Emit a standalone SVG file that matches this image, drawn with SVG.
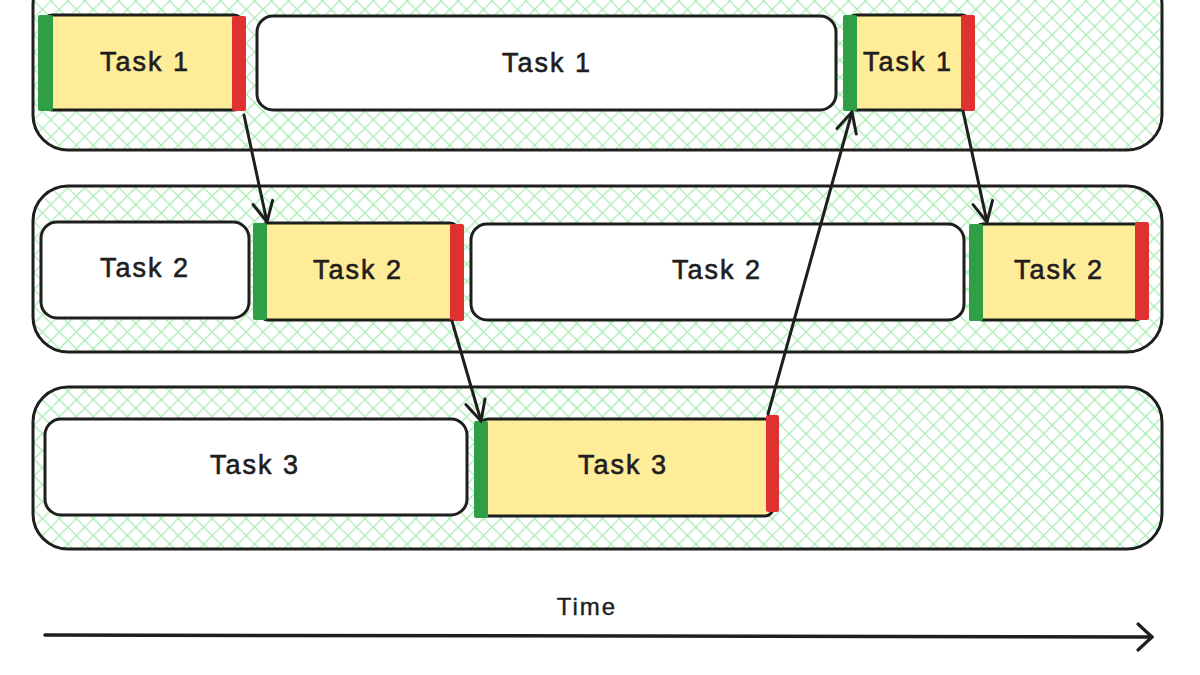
<svg xmlns="http://www.w3.org/2000/svg" width="1200" height="675" viewBox="0 0 1200 675">
<defs>
<pattern id="hatch" patternUnits="userSpaceOnUse" width="12" height="12" patternTransform="rotate(45)">
<line x1="0" y1="0" x2="12" y2="0" stroke="#a9ecb4" stroke-width="2.6"/>
<line x1="0" y1="0" x2="0" y2="12" stroke="#a9ecb4" stroke-width="2.6"/>
</pattern>
<marker id="arr" markerWidth="30" markerHeight="30" refX="25" refY="15" orient="auto" markerUnits="userSpaceOnUse">
<path d="M5,5 L25,15 L5,25" fill="none" stroke="#1e1e1e" stroke-width="3" stroke-linecap="round" stroke-linejoin="round"/>
</marker>
<marker id="arrT" markerWidth="40" markerHeight="40" refX="34" refY="20" orient="auto" markerUnits="userSpaceOnUse">
<path d="M20,7 L34,20 L20,33" fill="none" stroke="#1e1e1e" stroke-width="3.2" stroke-linecap="round" stroke-linejoin="round"/>
</marker>
</defs>
<style>
.lane{fill:url(#hatch);stroke:#1e1e1e;stroke-width:3}
.task{stroke:#1e1e1e;stroke-width:3}
.w{fill:#ffffff}
.y{fill:#ffec99}
.g{fill:#2f9e44}
.r{fill:#e03131}
.t{font-family:"Liberation Sans",Arial,sans-serif;font-size:27px;fill:#1e1e1e;text-anchor:middle;dominant-baseline:central;letter-spacing:2px;stroke:#1e1e1e;stroke-width:0.6}
.c{fill:none;stroke:#1e1e1e;stroke-width:3;stroke-linecap:round}
</style>
<g id="lane1"><rect class="lane" x="33" y="-30" width="1129" height="180" rx="35"/></g>
<g id="lane2"><rect class="lane" x="33" y="186" width="1129" height="166" rx="35"/></g>
<g id="lane3"><rect class="lane" x="33" y="387" width="1129" height="162" rx="35"/></g>

<g id="t1a"><rect class="task y" x="44" y="15" width="198" height="95" rx="8"/><rect class="g" x="38" y="15" width="15" height="96" rx="2"/><rect class="r" x="232" y="16" width="14" height="95" rx="2"/><text class="t" x="145" y="62">Task 1</text></g>
<g id="t1b"><rect class="task w" x="257" y="16" width="579" height="94" rx="16"/><text class="t" x="547" y="63">Task 1</text></g>
<g id="t1c"><rect class="task y" x="848" y="15" width="122" height="95" rx="8"/><rect class="g" x="843" y="15" width="14" height="96" rx="2"/><rect class="r" x="961" y="15" width="14" height="96" rx="2"/><text class="t" x="908" y="62">Task 1</text></g>

<g id="t2a"><rect class="task w" x="41" y="222" width="208" height="96" rx="16"/><text class="t" x="145" y="268">Task 2</text></g>
<g id="t2b"><rect class="task y" x="260" y="223" width="198" height="97" rx="8"/><rect class="g" x="253" y="223" width="14" height="97" rx="2"/><rect class="r" x="450" y="224" width="14" height="97" rx="2"/><text class="t" x="358" y="270">Task 2</text></g>
<g id="t2c"><rect class="task w" x="471" y="224" width="493" height="96" rx="16"/><text class="t" x="717" y="270">Task 2</text></g>
<g id="t2d"><rect class="task y" x="975" y="224" width="168" height="96" rx="8"/><rect class="g" x="969" y="224" width="14" height="97" rx="2"/><rect class="r" x="1135" y="222" width="14" height="98" rx="2"/><text class="t" x="1059" y="270">Task 2</text></g>

<g id="t3a"><rect class="task w" x="45" y="419" width="422" height="96" rx="16"/><text class="t" x="255" y="465">Task 3</text></g>
<g id="t3b"><rect class="task y" x="480" y="419" width="293" height="97" rx="8"/><rect class="g" x="474" y="421" width="14" height="97" rx="2"/><rect class="r" x="766" y="415" width="13" height="97" rx="2"/><text class="t" x="623" y="465">Task 3</text></g>

<g id="connectors">
<line class="c" x1="244" y1="115" x2="267" y2="222" marker-end="url(#arr)"/>
<line class="c" x1="452" y1="321" x2="481" y2="421" marker-end="url(#arr)"/>
<line class="c" x1="768" y1="414" x2="852" y2="112" marker-end="url(#arr)"/>
<line class="c" x1="963" y1="111" x2="987" y2="222" marker-end="url(#arr)"/>
<line x1="45" y1="635" x2="1152" y2="637" stroke="#1e1e1e" stroke-width="3.5" stroke-linecap="round" marker-end="url(#arrT)"/>
</g>
<g id="time-label"><text x="587" y="606" font-family="'Liberation Sans',Arial,sans-serif" font-size="24" fill="#1e1e1e" stroke="#1e1e1e" stroke-width="0.4" text-anchor="middle" dominant-baseline="central" letter-spacing="2">Time</text></g>
</svg>
